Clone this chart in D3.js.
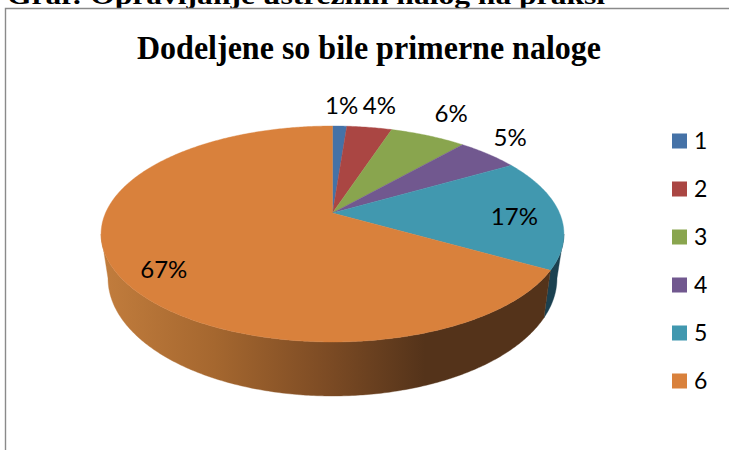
<!DOCTYPE html>
<html><head><meta charset="utf-8">
<script src="https://cdnjs.cloudflare.com/ajax/libs/d3/7.8.5/d3.min.js"></script>
<style>html,body{margin:0;padding:0;background:#fff}svg{display:block}</style>
</head><body><svg id="c" width="729" height="450"></svg>
<script>
const categories = ["1","2","3","4","5","6"];
const values = [1.2,3.8,6.4,5.2,16.7,66.7];
const labels = ["1%","4%","6%","5%","17%","67%"];
const topColors = ["#4572a7","#aa4643","#89a54e","#71588f","#4198af","#d9813c"];
const sideColors = ["#2a4565","#662a28","#52632f","#443556","#1b4150","url(#sideOrange)"];
const labelNudges = [[2,-22],[10,-23],[23,-23],[22,-18],[-45,2.5],[49,-2]];
const pageHeading = "Graf: Opravljanje ustreznih nalog na praksi";
const chartTitle = "Dodeljene so bile primerne naloge";

const svg = d3.select("#c");
const defs = svg.append("defs");
const grad = defs.append("linearGradient").attr("id","sideOrange")
  .attr("gradientUnits","userSpaceOnUse").attr("x1",101).attr("x2",425).attr("y1",0).attr("y2",0);
[[0,"#c27d3d"],[0.35,"#a5672f"],[0.7,"#7c4b24"],[1,"#54331a"]].forEach(s=>
  grad.append("stop").attr("offset",s[0]).attr("stop-color",s[1]));

// Perspective projection of the unit pie disc onto the page
const cx = 332.5, rx = 227, persp = -0.1944, apexY = 213, yGain = 62.5;
const project = a => {
  const x = Math.sin(a), y = -Math.cos(a), w = 1 + persp*y;
  return [cx + rx*x/w, (yGain*y + apexY)/w];
};
const apex = [cx, apexY];
const xBottom = d3.scaleLinear().domain([cx-100,cx+100]).range([cx-97,cx+97]);
const yBottom = d3.scaleLinear().domain([234,342]).range([278.3,396]);
const lower = p => [xBottom(p[0]), yBottom(p[1])];
const line = d3.line();
const rimAngles = (a0,a1) => { const n = Math.max(2,Math.ceil((a1-a0)/0.01));
  return d3.range(n+1).map(i=>a0+(a1-a0)*i/n); };

const arcs = d3.pie().sort(null).startAngle(0).endAngle(2*Math.PI)(values);
const sideStart = 101.2*Math.PI/180, sideEnd = 258.8*Math.PI/180;

// Frame and cropped heading
svg.append("text").attr("x",7).attr("y",4).text(pageHeading)
  .attr("font-family","Liberation Serif").attr("font-weight","bold").attr("font-size",26)
  .attr("textLength",598).attr("lengthAdjust","spacingAndGlyphs").attr("fill","#000");
svg.append("rect").attr("x",0).attr("y",8).attr("width",729).attr("height",442).attr("fill","#fff");
svg.append("path").attr("d","M5.5,450V8.5H729").attr("fill","none").attr("stroke","#8a8a8a").attr("stroke-width",1.4);

// Side walls
arcs.forEach((d,i)=>{
  const a0 = Math.max(d.startAngle,sideStart), a1 = Math.min(d.endAngle,sideEnd);
  if (a1 <= a0) return;
  const top = rimAngles(a0,a1).map(project);
  const poly = top.concat(top.map(lower).reverse());
  svg.append("path").attr("d",line(poly)+"Z").attr("fill",sideColors[i])
    .attr("stroke",sideColors[i]).attr("stroke-width",0.4);
});

// Top face
arcs.forEach((d,i)=>{
  const pts = [apex].concat(rimAngles(d.startAngle,d.endAngle).map(project));
  svg.append("path").attr("d",line(pts)+"Z").attr("fill",topColors[i])
    .attr("stroke",topColors[i]).attr("stroke-width",0.4);
});

// Data labels
arcs.forEach((d,i)=>{
  const p = project((d.startAngle+d.endAngle)/2);
  svg.append("text").attr("x",p[0]+labelNudges[i][0]).attr("y",p[1]+labelNudges[i][1])
    .attr("text-anchor","middle").attr("dominant-baseline","central")
    .attr("font-family","Lato").attr("font-size",24).attr("fill","#000").text(labels[i]);
});

// Title
svg.append("text").attr("x",369).attr("y",59).attr("text-anchor","middle")
  .attr("font-family","Liberation Serif").attr("font-weight","bold").attr("font-size",33)
  .attr("textLength",464).attr("lengthAdjust","spacingAndGlyphs").text(chartTitle);

// Legend
const legendY = d3.scalePoint().domain(categories).range([141,381]);
categories.forEach((c,i)=>{
  svg.append("rect").attr("x",672).attr("y",legendY(c)-7.5).attr("width",15).attr("height",15).attr("fill",topColors[i]);
  svg.append("text").attr("x",694).attr("y",legendY(c)-1).attr("dominant-baseline","central")
    .attr("font-family","Lato").attr("font-size",23).attr("fill","#000").text(c);
});
</script></body></html>
